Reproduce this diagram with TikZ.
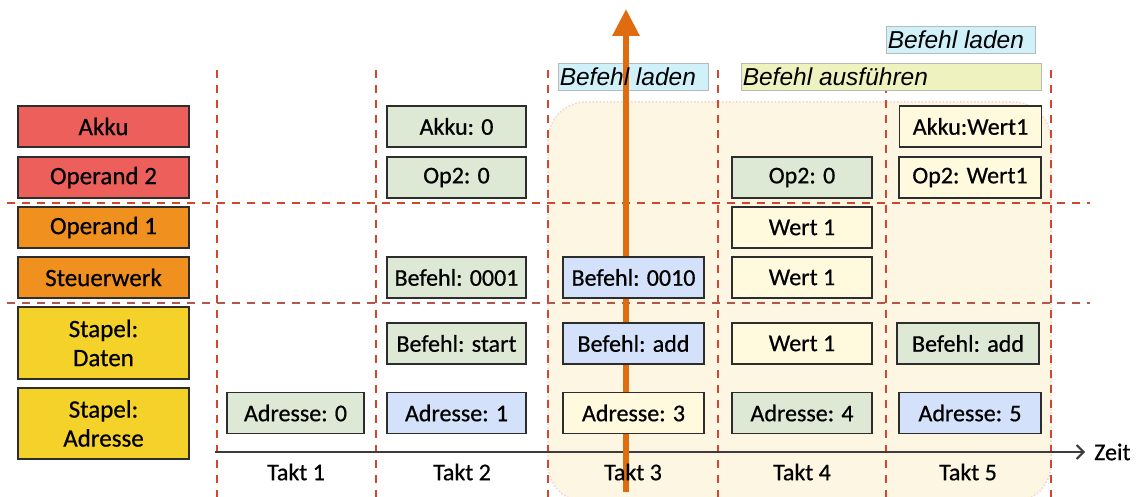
\documentclass[tikz,border=0pt]{standalone}
\usepackage{fontspec}
\setmainfont{Carlito}[FakeBold=0.6]
\newfontfamily\labelfont{Liberation Sans}
\usetikzlibrary{arrows.meta}

\definecolor{akkured}{RGB}{236,95,90}
\definecolor{steuerorange}{RGB}{240,144,30}
\definecolor{stapelyellow}{RGB}{245,210,42}
\definecolor{cellgreen}{RGB}{222,233,213}
\definecolor{cellblue}{RGB}{211,226,250}
\definecolor{cellcream}{RGB}{255,250,222}
\definecolor{phasebg}{RGB}{252,246,226}
\definecolor{phaserim}{RGB}{245,210,210}
\definecolor{gridred}{RGB}{208,70,46}
\definecolor{gridbrown}{RGB}{180,86,76}
\definecolor{edgegray}{RGB}{45,45,45}
\definecolor{axisgray}{RGB}{60,60,60}
\definecolor{timeorange}{RGB}{224,108,16}
\definecolor{loadcyan}{RGB}{208,240,250}
\definecolor{runyellow}{RGB}{238,242,190}
\definecolor{tagrim}{RGB}{185,185,185}

\tikzset{
  cell/.style={draw=edgegray, line width=1.4pt, inner sep=0pt,
    minimum height=41pt, font=\fontsize{24}{28}\selectfont},
  regbox/.style={cell, minimum width=171pt, align=center,
    font=\fontsize{25}{29}\selectfont},
  colA/.style={minimum width=137pt},
  colB/.style={minimum width=139pt},
  colC/.style={minimum width=141pt},
  colD/.style={minimum width=140pt},
  colE/.style={minimum width=142pt},
  grid/.style={gridred, line width=1.5pt, dash pattern=on 8pt off 7pt},
  tagbox/.style={draw=tagrim, line width=0.9pt, minimum height=27pt, inner sep=0pt},
  tagtext/.style={inner xsep=2pt, inner ysep=0pt, anchor=west,
    font=\labelfont\itshape\fontsize{24.5}{28}\selectfont},
  taktlabel/.style={font=\fontsize{24}{28}\selectfont, inner sep=0pt},
}

\begin{document}
\begin{tikzpicture}[x=1pt,y=-1pt]
\useasboundingbox (0,0) rectangle (1144,497);

% execution phase backdrop
\path[fill=phasebg, draw=phaserim, line width=1.5pt, dotted, rounded corners=38pt]
  (548,102) rectangle (1051,502);

% clock column separators
\foreach \gx in {217,376,548,718,886,1051}
  \draw[grid] (\gx,70) -- (\gx,497);

% register group separators
\draw[grid] (7,203) -- (1090,203);
\draw[grid, gridbrown] (7,303) -- (1090,303);

% time axis
\coordinate (axisS) at (215,452);
\coordinate (axisE) at (1085,452);
\draw[axisgray, line width=2pt, -{Straight Barb[length=7pt,width=14pt,line width=2pt]}] (axisS) -- (axisE);
\node[taktlabel, anchor=west] (zeit) at (1094,452) {Zeit};

% phase tag frames
\node[tagbox, fill=loadcyan, minimum width=150pt] (load1box) at (633,76.5) {};
\node[tagbox, fill=runyellow, minimum width=300pt] (execbox) at (891,76.5) {};
\node[tagbox, fill=loadcyan, minimum width=149pt] (load2box) at (960.5,39.5) {};

% current moment
\coordinate (nowS) at (626,492);
\coordinate (nowE) at (626,9);
\draw[timeorange, line width=6pt, -{Triangle[length=27pt,width=26pt]}] (nowS) -- (nowE);

% phase tag texts
\node[tagtext] (load1) at (load1box.west) {Befehl laden};
\node[tagtext] (exec) at (execbox.west) {Befehl ausführen};
\node[tagtext] (load2) at (load2box.west) {Befehl laden};

% register labels
\node[regbox, fill=akkured, minimum height=41pt] (rAkku) at (103.5,126.5) {Akku};
\node[regbox, fill=akkured, minimum height=41pt] (rOp2) at (103.5,177.5) {Operand 2};
\node[regbox, fill=steuerorange, minimum height=41pt] (rOp1) at (103.5,227.5) {Operand 1};
\node[regbox, fill=steuerorange, minimum height=41pt] (rStw) at (103.5,277.5) {Steuerwerk};
\node[regbox, fill=stapelyellow, minimum height=72pt] (rDaten) at (103.5,343) {Stapel:\\Daten};
\node[regbox, fill=stapelyellow, minimum height=71pt] (rAdr) at (103.5,423.5) {Stapel:\\Adresse};

% Takt 1
\node[cell, colA, fill=cellgreen] (t1adr) at (295.5,413) {Adresse: 0};

% Takt 2
\node[cell, colB, fill=cellgreen] (t2akku) at (456.5,126.5) {Akku: 0};
\node[cell, colB, fill=cellgreen] (t2op2) at (456.5,177.5) {Op2: 0};
\node[cell, colB, fill=cellgreen] (t2stw) at (456.5,277.5) {Befehl: 0001};
\node[cell, colB, fill=cellgreen] (t2daten) at (456.5,343.5) {Befehl: start};
\node[cell, colB, fill=cellblue] (t2adr) at (456.5,413) {Adresse: 1};

% Takt 3
\node[cell, colC, fill=cellblue] (t3stw) at (633.5,277.5) {Befehl: 0010};
\node[cell, colC, fill=cellblue] (t3daten) at (633.5,343.5) {Befehl: add};
\node[cell, colC, fill=cellcream] (t3adr) at (633.5,413) {Adresse: 3};

% Takt 4
\node[cell, colD, fill=cellgreen] (t4op2) at (802,177.5) {Op2: 0};
\node[cell, colD, fill=cellcream] (t4op1) at (802,227.5) {Wert 1};
\node[cell, colD, fill=cellcream] (t4stw) at (802,277.5) {Wert 1};
\node[cell, colD, fill=cellcream] (t4daten) at (802,343.5) {Wert 1};
\node[cell, colD, fill=cellgreen] (t4adr) at (802,413) {Adresse: 4};

% Takt 5
\node[cell, colE, fill=cellcream] (t5akku) at (970.5,126.5) {Akku:Wert1};
\node[cell, colE, fill=cellcream] (t5op2) at (970,177.5) {Op2: Wert1};
\node[cell, colE, fill=cellgreen] (t5daten) at (968,343.5) {Befehl: add};
\node[cell, colE, fill=cellblue] (t5adr) at (970,413) {Adresse: 5};

% clock labels
\node[taktlabel] (takt1) at (296,472) {Takt 1};
\node[taktlabel] (takt2) at (462,472) {Takt 2};
\node[taktlabel] (takt3) at (633,472) {Takt 3};
\node[taktlabel] (takt4) at (802,472) {Takt 4};
\node[taktlabel] (takt5) at (968,472) {Takt 5};
\end{tikzpicture}
\end{document}
